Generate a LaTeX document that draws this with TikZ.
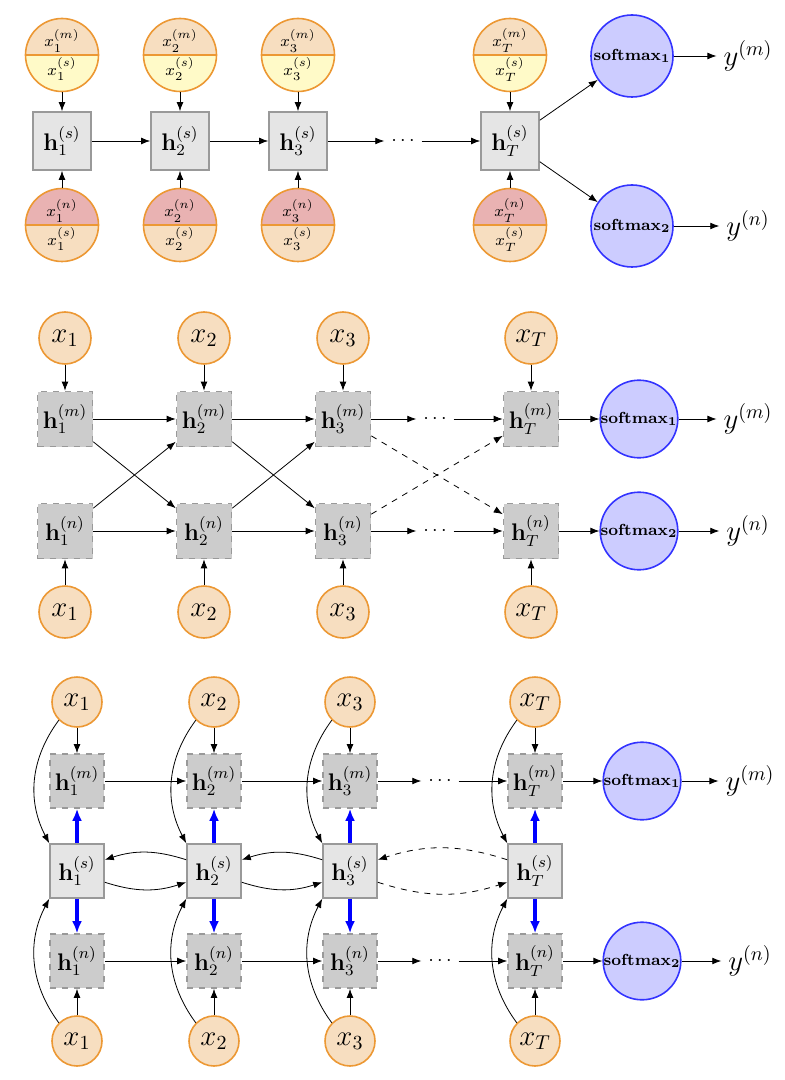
\documentclass[tikz,border=0pt]{standalone}
\usetikzlibrary{shapes.multipart,arrows.meta}

\definecolor{inline}{RGB}{236,152,52}
\definecolor{infill}{RGB}{247,222,192}
\definecolor{sfill}{RGB}{255,250,200}
\definecolor{nfill}{RGB}{233,178,178}

\begin{document}
\begin{tikzpicture}[x=0.5pt,y=0.5pt,>={Latex[length=4.5pt,width=3.4pt]},
    in node/.style={circle,draw=inline,fill=infill,thick,minimum size=26pt,inner sep=0pt,font=\Large},
    split node/.style 2 args={circle split,draw=inline,thick,minimum size=36.5pt,inner sep=1pt,font=\footnotesize,
        fill=#1,path picture={\fill[#2] (path picture bounding box.west) rectangle (path picture bounding box.south east);}},
    shared node/.style={rectangle,draw=gray!80,fill=gray!20,thick,minimum size=29pt,inner sep=0pt,font=\large},
    private node/.style={rectangle,draw=gray!80,fill=gray!40,thick,dashed,minimum size=27.5pt,inner sep=0pt,font=\large},
    out node/.style={circle,draw=blue!80,fill=blue!20,thick,minimum size=38pt,inner sep=0pt,font=\footnotesize},
    label node/.style={font=\Large},
    share/.style={-{Latex[length=6pt,width=5pt]},blue,line width=1.6pt}]

    \useasboundingbox (0,0) rectangle (784,-1080);

    % fully shared model
    \node[split node={infill}{sfill}] at (62,-55) (Am1) {$x_1^{(m)}$ \nodepart{lower} $x_1^{(s)}$};
    \node[split node={infill}{sfill}] at (180,-55) (Am2) {$x_2^{(m)}$ \nodepart{lower} $x_2^{(s)}$};
    \node[split node={infill}{sfill}] at (298,-55) (Am3) {$x_3^{(m)}$ \nodepart{lower} $x_3^{(s)}$};
    \node[split node={infill}{sfill}] at (510,-55) (AmT) {$x_T^{(m)}$ \nodepart{lower} $x_T^{(s)}$};
    \node[shared node] at (62,-141) (As1) {$\mathbf{h}_1^{(s)}$};
    \node[shared node] at (180,-141) (As2) {$\mathbf{h}_2^{(s)}$};
    \node[shared node] at (298,-141) (As3) {$\mathbf{h}_3^{(s)}$};
    \node at (403,-141) (Adots) {$\cdots$};
    \node[shared node] at (510,-141) (AsT) {$\mathbf{h}_T^{(s)}$};
    \node[split node={nfill}{infill}] at (62,-225) (An1) {$x_1^{(n)}$ \nodepart{lower} $x_1^{(s)}$};
    \node[split node={nfill}{infill}] at (180,-225) (An2) {$x_2^{(n)}$ \nodepart{lower} $x_2^{(s)}$};
    \node[split node={nfill}{infill}] at (298,-225) (An3) {$x_3^{(n)}$ \nodepart{lower} $x_3^{(s)}$};
    \node[split node={nfill}{infill}] at (510,-225) (AnT) {$x_T^{(n)}$ \nodepart{lower} $x_T^{(s)}$};
    \node[out node,minimum size=41pt] at (632,-56) (Ao1) {$\mathbf{softmax_1}$};
    \node[out node,minimum size=41pt] at (632,-226) (Ao2) {$\mathbf{softmax_2}$};
    \node[label node] at (748,-56) (Aym) {$y^{(m)}$};
    \node[label node] at (748,-226) (Ayn) {$y^{(n)}$};

    \draw[->] (Am1) -- (As1);
    \draw[->] (Am2) -- (As2);
    \draw[->] (Am3) -- (As3);
    \draw[->] (AmT) -- (AsT);
    \draw[->] (An1) -- (As1);
    \draw[->] (An2) -- (As2);
    \draw[->] (An3) -- (As3);
    \draw[->] (AnT) -- (AsT);
    \draw[->] (As1) -- (As2);
    \draw[->] (As2) -- (As3);
    \draw[->] (As3) -- (Adots);
    \draw[->] (Adots) -- (AsT);
    \draw[->] (AsT) -- (Ao1);
    \draw[->] (AsT) -- (Ao2);
    \draw[->] (Ao1) -- (Aym);
    \draw[->] (Ao2) -- (Ayn);

    % two private chains, crossed
    \node[in node] at (65,-338) (Bxu1) {$x_1$};
    \node[in node] at (204,-338) (Bxu2) {$x_2$};
    \node[in node] at (343,-338) (Bxu3) {$x_3$};
    \node[in node] at (531,-338) (BxuT) {$x_T$};
    \node[private node] at (65,-419) (Bm1) {$\mathbf{h}_1^{(m)}$};
    \node[private node] at (204,-419) (Bm2) {$\mathbf{h}_2^{(m)}$};
    \node[private node] at (343,-419) (Bm3) {$\mathbf{h}_3^{(m)}$};
    \node at (435,-419) (Bdotsm) {$\cdots$};
    \node[private node] at (531,-419) (BmT) {$\mathbf{h}_T^{(m)}$};
    \node[private node] at (65,-531) (Bn1) {$\mathbf{h}_1^{(n)}$};
    \node[private node] at (204,-531) (Bn2) {$\mathbf{h}_2^{(n)}$};
    \node[private node] at (343,-531) (Bn3) {$\mathbf{h}_3^{(n)}$};
    \node at (435,-531) (Bdotsn) {$\cdots$};
    \node[private node] at (531,-531) (BnT) {$\mathbf{h}_T^{(n)}$};
    \node[in node] at (65,-612) (Bxd1) {$x_1$};
    \node[in node] at (204,-612) (Bxd2) {$x_2$};
    \node[in node] at (343,-612) (Bxd3) {$x_3$};
    \node[in node] at (531,-612) (BxdT) {$x_T$};
    \node[out node] at (639,-419) (Bo1) {$\mathbf{softmax_1}$};
    \node[out node] at (639,-531) (Bo2) {$\mathbf{softmax_2}$};
    \node[label node] at (748,-419) (Bym) {$y^{(m)}$};
    \node[label node] at (748,-531) (Byn) {$y^{(n)}$};

    \draw[->] (Bxu1) -- (Bm1);
    \draw[->] (Bxu2) -- (Bm2);
    \draw[->] (Bxu3) -- (Bm3);
    \draw[->] (BxuT) -- (BmT);
    \draw[->] (Bxd1) -- (Bn1);
    \draw[->] (Bxd2) -- (Bn2);
    \draw[->] (Bxd3) -- (Bn3);
    \draw[->] (BxdT) -- (BnT);
    \draw[->] (Bm1) -- (Bm2);
    \draw[->] (Bm2) -- (Bm3);
    \draw[->] (Bm3) -- (Bdotsm);
    \draw[->] (Bdotsm) -- (BmT);
    \draw[->] (Bn1) -- (Bn2);
    \draw[->] (Bn2) -- (Bn3);
    \draw[->] (Bn3) -- (Bdotsn);
    \draw[->] (Bdotsn) -- (BnT);
    \draw[->] (Bm1) -- (Bn2);
    \draw[->] (Bn1) -- (Bm2);
    \draw[->] (Bm2) -- (Bn3);
    \draw[->] (Bn2) -- (Bm3);
    \draw[->,dashed] (Bm3) -- (BnT);
    \draw[->,dashed] (Bn3) -- (BmT);
    \draw[->] (BmT) -- (Bo1);
    \draw[->] (BnT) -- (Bo2);
    \draw[->] (Bo1) -- (Bym);
    \draw[->] (Bo2) -- (Byn);

    % shared layer between the private chains
    \node[in node,minimum size=25pt] at (77,-702) (Cxu1) {$x_1$};
    \node[in node,minimum size=25pt] at (214,-702) (Cxu2) {$x_2$};
    \node[in node,minimum size=25pt] at (350,-702) (Cxu3) {$x_3$};
    \node[in node,minimum size=25pt] at (535,-702) (CxuT) {$x_T$};
    \node[private node,minimum size=27pt] at (77,-781) (Cm1) {$\mathbf{h}_1^{(m)}$};
    \node[private node,minimum size=27pt] at (214,-781) (Cm2) {$\mathbf{h}_2^{(m)}$};
    \node[private node,minimum size=27pt] at (350,-781) (Cm3) {$\mathbf{h}_3^{(m)}$};
    \node at (440,-781) (Cdotsm) {$\cdots$};
    \node[private node,minimum size=27pt] at (535,-781) (CmT) {$\mathbf{h}_T^{(m)}$};
    \node[shared node,minimum size=27pt] at (77,-871) (Cs1) {$\mathbf{h}_1^{(s)}$};
    \node[shared node,minimum size=27pt] at (214,-871) (Cs2) {$\mathbf{h}_2^{(s)}$};
    \node[shared node,minimum size=27pt] at (350,-871) (Cs3) {$\mathbf{h}_3^{(s)}$};
    \node[shared node,minimum size=27pt] at (535,-871) (CsT) {$\mathbf{h}_T^{(s)}$};
    \node[private node,minimum size=27pt] at (77,-961) (Cn1) {$\mathbf{h}_1^{(n)}$};
    \node[private node,minimum size=27pt] at (214,-961) (Cn2) {$\mathbf{h}_2^{(n)}$};
    \node[private node,minimum size=27pt] at (350,-961) (Cn3) {$\mathbf{h}_3^{(n)}$};
    \node at (440,-961) (Cdotsn) {$\cdots$};
    \node[private node,minimum size=27pt] at (535,-961) (CnT) {$\mathbf{h}_T^{(n)}$};
    \node[in node,minimum size=25pt] at (77,-1041) (Cxd1) {$x_1$};
    \node[in node,minimum size=25pt] at (214,-1041) (Cxd2) {$x_2$};
    \node[in node,minimum size=25pt] at (350,-1041) (Cxd3) {$x_3$};
    \node[in node,minimum size=25pt] at (535,-1041) (CxdT) {$x_T$};
    \node[out node,minimum size=37.5pt] at (642,-781) (Co1) {$\mathbf{softmax_1}$};
    \node[out node,minimum size=37.5pt] at (642,-961) (Co2) {$\mathbf{softmax_2}$};
    \node[label node] at (750,-781) (Cym) {$y^{(m)}$};
    \node[label node] at (750,-961) (Cyn) {$y^{(n)}$};

    \draw[->] (Cxu1) -- (Cm1);
    \draw[->] (Cxu2) -- (Cm2);
    \draw[->] (Cxu3) -- (Cm3);
    \draw[->] (CxuT) -- (CmT);
    \draw[->] (Cxd1) -- (Cn1);
    \draw[->] (Cxd2) -- (Cn2);
    \draw[->] (Cxd3) -- (Cn3);
    \draw[->] (CxdT) -- (CnT);
    \draw[->] (Cxu1.south west) to[bend right=32] (Cs1.north west);
    \draw[->] (Cxu2.south west) to[bend right=32] (Cs2.north west);
    \draw[->] (Cxu3.south west) to[bend right=32] (Cs3.north west);
    \draw[->] (CxuT.south west) to[bend right=32] (CsT.north west);
    \draw[->] (Cxd1.north west) to[bend left=32] (Cs1.south west);
    \draw[->] (Cxd2.north west) to[bend left=32] (Cs2.south west);
    \draw[->] (Cxd3.north west) to[bend left=32] (Cs3.south west);
    \draw[->] (CxdT.north west) to[bend left=32] (CsT.south west);
    \draw[share] (Cs1) -- (Cm1);
    \draw[share] (Cs2) -- (Cm2);
    \draw[share] (Cs3) -- (Cm3);
    \draw[share] (CsT) -- (CmT);
    \draw[share] (Cs1) -- (Cn1);
    \draw[share] (Cs2) -- (Cn2);
    \draw[share] (Cs3) -- (Cn3);
    \draw[share] (CsT) -- (CnT);
    \draw[->] (Cs1.-22) to[bend right=18] (Cs2.202);
    \draw[->] (Cs2.158) to[bend right=18] (Cs1.22);
    \draw[->] (Cs2.-22) to[bend right=18] (Cs3.202);
    \draw[->] (Cs3.158) to[bend right=18] (Cs2.22);
    \draw[->,dashed] (Cs3.-22) to[bend right=18] (CsT.202);
    \draw[->,dashed] (CsT.158) to[bend right=18] (Cs3.22);
    \draw[->] (Cm1) -- (Cm2);
    \draw[->] (Cm2) -- (Cm3);
    \draw[->] (Cm3) -- (Cdotsm);
    \draw[->] (Cdotsm) -- (CmT);
    \draw[->] (Cn1) -- (Cn2);
    \draw[->] (Cn2) -- (Cn3);
    \draw[->] (Cn3) -- (Cdotsn);
    \draw[->] (Cdotsn) -- (CnT);
    \draw[->] (CmT) -- (Co1);
    \draw[->] (CnT) -- (Co2);
    \draw[->] (Co1) -- (Cym);
    \draw[->] (Co2) -- (Cyn);
\end{tikzpicture}
\end{document}
